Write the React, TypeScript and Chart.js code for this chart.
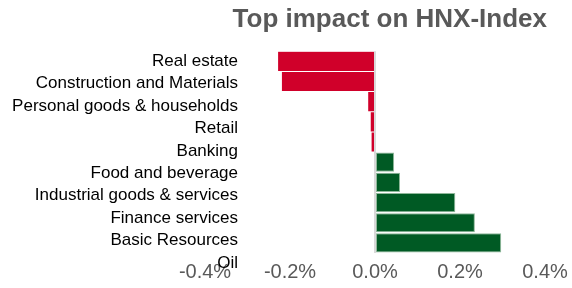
import { useEffect, useRef } from "react";
import { Chart, registerables } from "chart.js";

Chart.register(...registerables);

const categories = [
  "Real estate",
  "Construction and Materials",
  "Personal goods & households",
  "Retail",
  "Banking",
  "Food and beverage",
  "Industrial goods & services",
  "Finance services",
  "Basic Resources",
  "Oil",
];
const impact = [-0.228, -0.219, -0.016, -0.01, -0.008, 0.045, 0.059, 0.189, 0.235, 0.297];
const xTicks = [-0.4, -0.2, 0, 0.2, 0.4];
const titleText = "Top impact on HNX-Index";

const RED = "#D0002A";
const GREEN = "#005A24";
const FONT = "'Liberation Sans', Arial, sans-serif";
const LABEL_SIZE = 17;

export default function App() {
  const ref = useRef<HTMLCanvasElement | null>(null);

  useEffect(() => {
    if (!ref.current) return;
    const mctx = document.createElement("canvas").getContext("2d")!;
    mctx.font = `${LABEL_SIZE}px ${FONT}`;
    const widest = Math.max(...categories.map((c) => mctx.measureText(c).width));
    const LEFT = 205; // chart area left
    const LABEL_RIGHT = 238; // right edge of category labels

    const chart = new Chart(ref.current, {
      type: "bar",
      data: {
        labels: categories,
        datasets: [
          {
            data: impact,
            yAxisID: "yb",
            backgroundColor: impact.map((v) => (v < 0 ? RED : GREEN)),
            borderColor: impact.map((v) => (v < 0 ? RED : "#8FB89A")),
            borderWidth: impact.map((v) => (v < 0 ? 0 : 1)),
            borderSkipped: false,
            barPercentage: 0.95,
            categoryPercentage: 1,
          },
        ],
      },
      options: {
        indexAxis: "y",
        responsive: false,
        animation: false,
        layout: { padding: { left: 0, right: 25, top: 1, bottom: 0 } },
        plugins: {
          legend: { display: false },
          tooltip: { enabled: false },
          title: {
            display: true,
            text: titleText,
            align: "end",
            color: "#595959",
            font: { family: FONT, size: 26, weight: "bold" },
            padding: { top: 3, bottom: 16 },
          },
        },
        scales: {
          x: {
            type: "linear",
            min: -0.4,
            max: 0.4,
            afterBuildTicks: (s: any) => {
              s.ticks = xTicks.map((v) => ({ value: v }));
            },
            afterFit: (s: any) => {
              s.height = 35;
              s.paddingRight = 27;
            },
            border: { display: false },
            grid: {
              drawTicks: false,
              color: (c: any) => (c.tick && Math.abs(c.tick.value) < 1e-9 ? "#D9D9D9" : "rgba(0,0,0,0)"),
              lineWidth: 2,
            },
            ticks: {
              padding: 7,
              color: "#595959",
              font: { family: FONT, size: 20 },
              callback: (v: any) => `${Number(v).toFixed(1)}%`,
            },
          },
          yb: {
            type: "category",
            axis: "y",
            display: false,
            offset: true,
            labels: categories,
          },
          y: {
            type: "category",
            position: "left",
            offset: false,
            labels: categories,
            border: { display: false },
            grid: { display: false, drawTicks: false },
            afterFit: (s: any) => {
              s.width = LEFT;
            },
            ticks: {
              mirror: true,
              crossAlign: "far",
              padding: LABEL_RIGHT - LEFT - widest,
              labelOffset: 10,
              color: "#000",
              autoSkip: false,
              font: { family: FONT, size: LABEL_SIZE },
            },
          },
        },
      },
    } as any);
    return () => chart.destroy();
  }, []);

  return (
    <div style={{ position: "fixed", left: 0, top: 0, width: 572, height: 288, background: "#fff" }}>
      <canvas ref={ref} width={572} height={288} style={{ display: "block" }} />
    </div>
  );
}
